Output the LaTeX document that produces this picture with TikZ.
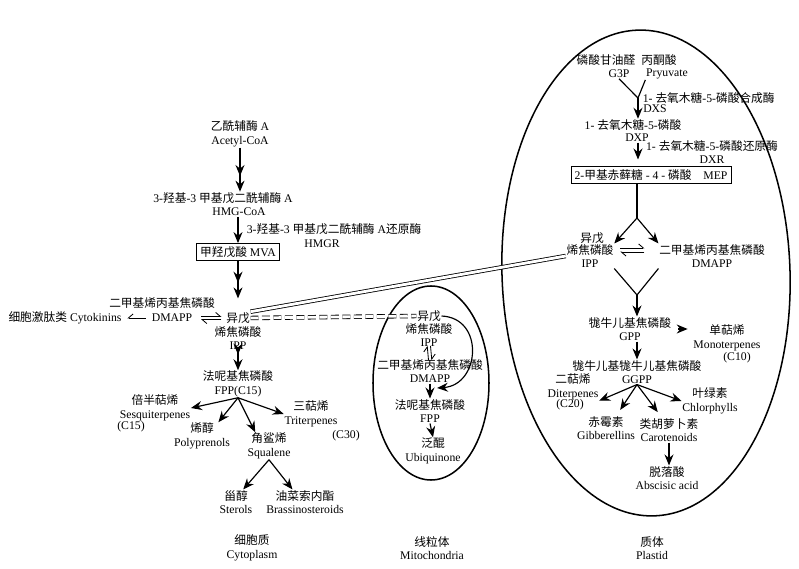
\documentclass[tikz,border=0pt]{standalone}
\usepackage{fontspec}
\setmainfont{Liberation Serif}
\newfontfamily\cjk{Noto Sans CJK SC}
\usepackage{tikz}
\usetikzlibrary{arrows.meta}
\newcommand\zh[1]{{\cjk #1}}

\begin{document}
\begin{tikzpicture}[x=0.03cm,y=-0.03cm,
    lbl/.style={align=center,inner sep=0.5pt,font=\fontsize{10}{11.5}\selectfont},
    box/.style={draw,line width=0.8pt,inner xsep=3pt,inner ysep=2.5pt,font=\fontsize{10}{11.5}\selectfont},
    line/.style={line width=1pt},
    arr/.style={line width=1pt,-{Stealth[length=3.3mm,width=2.7mm,inset=1.1mm]}},
    twohead/.style={line width=1pt,-{Stealth[length=3.3mm,width=2.7mm,inset=1.1mm,sep=1.4mm]Stealth[length=3.3mm,width=2.7mm,inset=1.1mm]}},
    harp/.style={line width=0.7pt,-{Straight Barb[left,length=1.4mm,width=2.4mm]}},
    harpr/.style={line width=0.7pt,-{Straight Barb[right,length=1.4mm,width=2.4mm]}},
    memb/.style={line width=1.3pt}]
        \useasboundingbox (0,0) rectangle (799,569);

        \node[lbl] (acetyl) at (240,134) {\zh{乙酰辅酶} A\\Acetyl-CoA};
        \node[lbl] (hmgzh) at (223,198) {3-\zh{羟基}-3 \zh{甲基戊二酰辅酶} A};
        \node[lbl] (hmg) at (239,212) {HMG-CoA};
        \node[lbl,anchor=west] (hmgrzh) at (246,229) {3-\zh{羟基}-3 \zh{甲基戊二酰辅酶} A\zh{还原酶}};
        \node[lbl] (hmgr) at (322,244) {HMGR};
        \node[box] (mva) at (238,252) {\zh{甲羟戊酸} MVA};
        \draw[twohead] (acetyl.south) -- (acetyl.south |- hmgzh.north);
        \draw[arr] (mva.north |- hmg.south) -- (mva.north);

        \node[lbl] (ippC) at (238,318) {\zh{异戊}};
        \node[lbl] (ippCb) at (238,338) {\zh{烯焦磷酸}\\IPP};
        \node[lbl] (dmappCzh) at (162,303) {\zh{二甲基烯丙基焦磷酸}};
        \node[lbl] (dmappC) at (172,318) {DMAPP};
        \node[lbl] (cytok) at (65,318) {\zh{细胞激肽类} Cytokinins};
        \draw[twohead,shorten >=4mm] (mva.south) -- (ippC.north);
        \draw[harp,shorten <=2.4mm,shorten >=1.2mm] ([yshift=1.3pt]dmappC.east) -- ([yshift=1.3pt]ippC.west);
        \draw[harp,shorten <=1.2mm,shorten >=2.4mm] ([yshift=-1.3pt]ippC.west) -- ([yshift=-1.3pt]dmappC.east);
        \draw[harpr,shorten <=1.5mm,shorten >=1.5mm] (dmappC.west) -- (cytok.east);

        \node[lbl] (fppC) at (238,384) {\zh{法呢基焦磷酸}\\FPP(C15)};
        \node[lbl] (sesq) at (155,408) {\zh{倍半萜烯}\\Sesquiterpenes};
        \node[lbl] (c15) at (131,427) {(C15)};
        \node[lbl] (poly) at (202,436) {\zh{烯醇}\\Polyprenols};
        \node[lbl] (squal) at (269,446) {\zh{角鲨烯}\\Squalene};
        \node[lbl] (trit) at (311,414) {\zh{三萜烯}\\Triterpenes};
        \node[lbl] (c30) at (346,436) {(C30)};
        \node[lbl] (sterol) at (236,502) {\zh{甾醇}\\Sterols};
        \node[lbl] (brass) at (305,502) {\zh{油菜索内酯}\\Brassinosteroids};
        \node[lbl] (cyto) at (252,548) {\zh{细胞质}\\Cytoplasm};
        \draw[twohead] (ippCb.south) -- (fppC.north);
        \draw[arr] (fppC.south) -- (sesq.east);
        \draw[arr] (fppC.south) -- (poly.40);
        \draw[arr] (fppC.south) -- (squal.135);
        \draw[arr] (fppC.south) -- (trit.west);
        \draw[arr] (squal.south) -- (sterol.60);
        \draw[arr] (squal.south) -- (brass.135);

        \draw[memb] (431,383) ellipse [x radius=58,y radius=97];
        \node[lbl] (ippM) at (429,316) {\zh{异戊}};
        \node[lbl] (ippMb) at (429,335) {\zh{烯焦磷酸}\\IPP};
        \node[lbl] (dmappM) at (430,371) {\zh{二甲基烯丙基焦磷酸}\\DMAPP};
        \node[lbl] (fppM) at (430,411) {\zh{法呢基焦磷酸}\\FPP};
        \node[lbl] (ubiq) at (433,451) {\zh{泛醌}\\Ubiquinone};
        \node[lbl] (mito) at (432,548) {\zh{线粒体}\\Mitochondria};
        \coordinate (mjoin) at (437,388);
        \draw[harp,shorten <=-0.5mm,shorten >=-0.5mm] ([xshift=-1.4pt]dmappM.north) -- ([xshift=-1.4pt]ippMb.south);
        \draw[harp,shorten <=-0.5mm,shorten >=-0.5mm] ([xshift=1.4pt]ippMb.south) -- ([xshift=1.4pt]dmappM.north);
        \draw[arr] (dmappM.south) -- (fppM.north);
        \draw[arr] (fppM.south) -- (ubiq.north);
        \draw[arr] (ippM.east) .. controls (485,318) and (480,385) .. (mjoin);
        \draw[line,double,double distance=2.4pt,line width=0.7pt,dash pattern=on 6.8pt off 3pt] (ippC.east) -- (ippM.west);

        \draw[memb,rotate around={2:(646,273)}] (646,273) ellipse [x radius=144,y radius=243];
        \node[lbl] (g3pzh) at (606,60) {\zh{磷酸甘油醛}};
        \node[lbl] (pyrzh) at (659,60) {\zh{丙酮酸}};
        \node[lbl] (g3p) at (619,74) {G3P};
        \node[lbl] (pyr) at (667,74) {Pryuvate};
        \coordinate (dxsj) at (638,98);
        \node[lbl,anchor=west] (dxszh) at (642,98) {1- \zh{去氧木糖}-5-\zh{磷酸合成酶}};
        \node[lbl] (dxs) at (655,109) {DXS};
        \node[lbl] (dxpzh) at (633,125) {1- \zh{去氧木糖}-5-\zh{磷酸}};
        \node[lbl] (dxp) at (637,138) {DXP};
        \node[lbl] (dxr) at (712,152) {1- \zh{去氧木糖}-5-\zh{磷酸还原酶}\\DXR};
        \node[box] (mep) at (651,175) {2-\zh{甲基赤藓糖} - 4 - \zh{磷酸}\quad MEP};
        \draw[line] (g3p.south) -- (dxsj);
        \draw[line] (pyr.south west) -- (dxsj);
        \draw[arr] (dxsj) -- (dxsj |- dxpzh.north);
        \draw[arr,shorten >=2mm] (dxp.south -| dxsj) -- (mep.north -| dxsj);

        \coordinate (br1) at (637,218);
        \node[lbl] (ippP) at (592,238) {\zh{异戊}};
        \node[lbl] (ippPb) at (590,256) {\zh{烯焦磷酸}\\IPP};
        \node[lbl] (dmappP) at (712,256) {\zh{二甲基烯丙基焦磷酸}\\DMAPP};
        \draw[line] (mep.south -| br1) -- (br1);
        \draw[arr] (br1) -- (ippPb.north east);
        \draw[arr] (br1) -- (dmappP.north west);
        \draw[harp,shorten <=1.8mm,shorten >=4.2mm] ([yshift=0.24cm]ippPb.east) -- ([yshift=0.24cm]dmappP.west);
        \draw[harp,shorten <=4.2mm,shorten >=1.8mm] ([yshift=0.12cm]dmappP.west) -- ([yshift=0.12cm]ippPb.east);
        \draw[line,double,double distance=2.4pt,line width=0.7pt] (ippC.north east) -- (ippPb.west);

        \coordinate (gj) at (637,295);
        \node[lbl] (gpp) at (630,329) {\zh{牻牛儿基焦磷酸}\\GPP};
        \node[lbl] (mono) at (727,338) {\zh{单萜烯}\\Monoterpenes};
        \node[lbl] (c10) at (737,358) {(C10)};
        \node[lbl] (ggpp) at (637,372) {\zh{牻牛儿基牻牛儿基焦磷酸}\\GGPP};
        \draw[line] (ippPb.south east) -- (gj);
        \draw[line] (dmappP.south west) -- (gj);
        \draw[arr] (gj) -- (gj |- gpp.north);
        \draw[arr,shorten <=2mm,shorten >=1.5mm] (gpp.east) -- (gpp.east -| mono.west);
        \draw[arr] (gpp.south -| gj) -- (ggpp.north -| gj);

        \node[lbl] (diter) at (573,387) {\zh{二萜烯}\\Diterpenes};
        \node[lbl] (c20) at (570,405) {(C20)};
        \node[lbl] (chloro) at (710,401) {\zh{叶绿素}\\Chlorphylls};
        \node[lbl] (gibb) at (606,428) {\zh{赤霉素}\\Gibberellins};
        \node[lbl] (carot) at (669,430) {\zh{类胡萝卜素}\\Carotenoids};
        \node[lbl] (absc) at (667,478) {\zh{脱落酸}\\Abscisic acid};
        \node[lbl] (plastid) at (652,548) {\zh{质体}\\Plastid};
        \draw[arr] (ggpp.south) -- (diter.south east);
        \draw[arr,shorten >=2mm] (ggpp.south) -- (gibb.50);
        \draw[arr,shorten >=2mm] (ggpp.south) -- (carot.120);
        \draw[arr] (ggpp.south) -- (chloro.west);
        \draw[arr] (carot.south) -- (carot.south |- absc.north);
    \end{tikzpicture}
\end{document}
